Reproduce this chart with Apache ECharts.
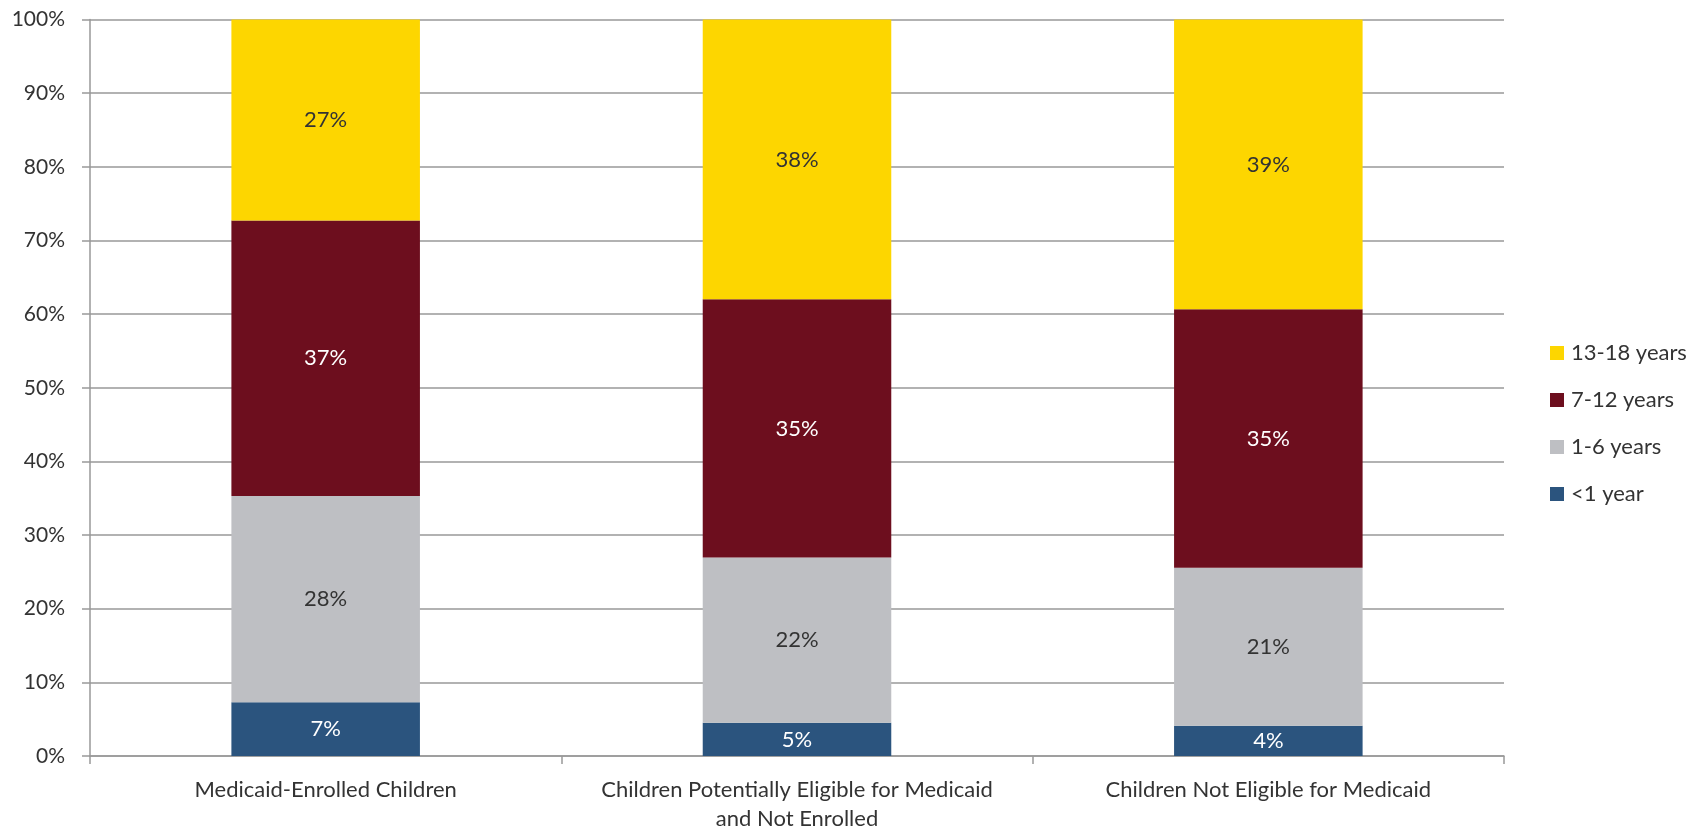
<!DOCTYPE html>
<html>
<head>
<meta charset="utf-8">
<script src="https://cdn.jsdelivr.net/npm/echarts@6/dist/echarts.min.js"></script>
<style>
html,body{margin:0;padding:0;background:#fff;}
#chart{width:1707px;height:834px;}
</style>
</head>
<body>
<div id="chart"></div>
<script>
const categories = ["Medicaid-Enrolled Children", "Children Potentially Eligible for Medicaid\nand Not Enrolled", "Children Not Eligible for Medicaid"];
const seriesNames = ["<1 year", "1-6 years", "7-12 years", "13-18 years"];
const under1 = [7.3, 4.5, 4.1];
const age1to6 = [28.0, 22.45, 21.45];
const age7to12 = [37.4, 35.05, 35.1];
const age13to18 = [27.3, 38.0, 39.35];
const yTicks = [0, 10, 20, 30, 40, 50, 60, 70, 80, 90, 100];

const colors = ["#2B547E", "#BEBFC3", "#6D0E1E", "#FDD600"];
const labelColors = ["#ffffff", "#333333", "#ffffff", "#333333"];
const values = [under1, age1to6, age7to12, age13to18];
const FONT = "Lato, 'Open Sans', sans-serif";

const chart = echarts.init(document.getElementById('chart'));
chart.setOption({
  animation: false,
  textStyle: {fontFamily: FONT},
  grid: {left: 90, right: 203, top: 19.5, bottom: 78, containLabel: false},
  legend: {
    orient: 'vertical',
    left: 1545,
    top: 337,
    itemWidth: 14,
    itemHeight: 14,
    itemGap: 25,
    icon: 'rect',
    data: ["13-18 years", "7-12 years", "1-6 years", "<1 year"],
    textStyle: {fontFamily: FONT, fontSize: 22, color: '#333', lineHeight: 22, padding: [0,0,0,2]}
  },
  xAxis: {
    type: 'category',
    data: categories,
    axisLine: {show: true, lineStyle: {color: '#999', width: 1.5}},
    axisTick: {show: true, length: 8, alignWithLabel: false, lineStyle: {color: '#999', width: 1.5}},
    axisLabel: {fontFamily: FONT, fontSize: 22, color: '#333', margin: 19, lineHeight: 29, interval: 0}
  },
  yAxis: {
    type: 'value',
    min: yTicks[0],
    max: yTicks[yTicks.length - 1],
    interval: 10,
    axisLine: {show: true, lineStyle: {color: '#999', width: 1.5}},
    axisTick: {show: true, length: 8, lineStyle: {color: '#999', width: 1.5}},
    splitLine: {show: true, lineStyle: {color: '#999', width: 1.5}},
    axisLabel: {fontFamily: FONT, fontSize: 21, color: '#333', margin: 25, formatter: v => v + '%'}
  },
  series: seriesNames.map((name, i) => ({
    name: name,
    type: 'bar',
    stack: 'total',
    barCategoryGap: '60%',
    data: values[i],
    itemStyle: {color: colors[i]},
    label: {
      show: true,
      position: 'inside',
      fontFamily: FONT,
      fontSize: 22,
      color: labelColors[i],
      formatter: p => Math.round(p.value) + '%'
    }
  }))
});
</script>
</body>
</html>
